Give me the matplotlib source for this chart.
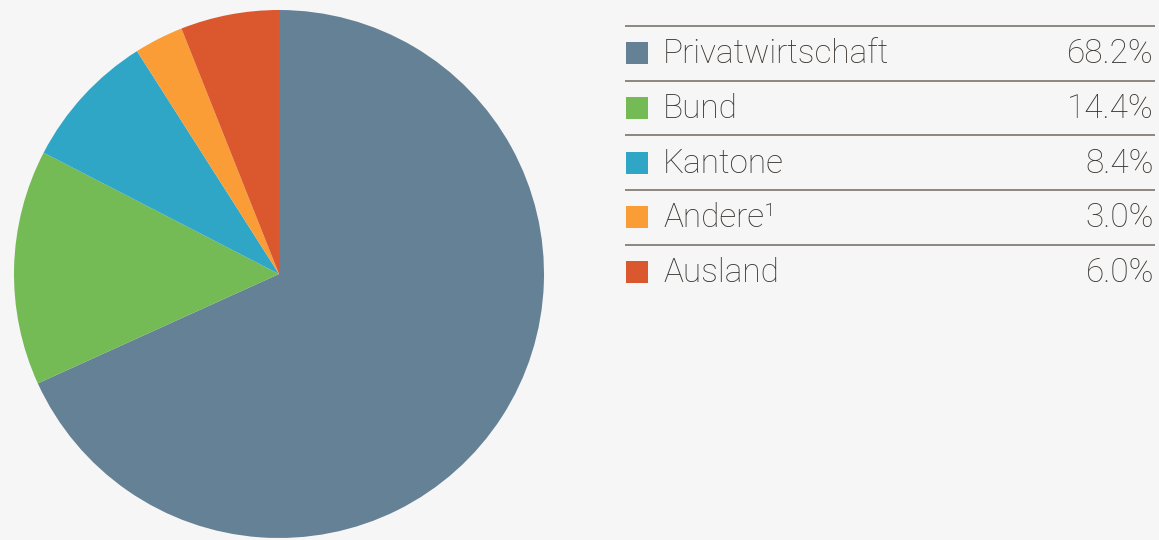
import matplotlib.pyplot as plt
from matplotlib.patches import Rectangle

categories = ['Privatwirtschaft', 'Bund', 'Kantone', 'Andere¹', 'Ausland']
shares = [68.2, 14.4, 8.4, 3.0, 6.0]
value_labels = ['68.2%', '14.4%', '8.4%', '3.0%', '6.0%']
colors = ['#658196', '#74BA55', '#2FA6C6', '#FB9D37', '#DB582F']

bg = '#F6F6F6'
text_color = '#3A3632'
line_color = '#8C877F'

W, H = 1159, 540
fig = plt.figure(figsize=(W / 100, H / 100), dpi=100, facecolor=bg)

# pie, placed in pixel units
ax = fig.add_axes([14 / W, 2 / H, 530 / W, 528 / H])
ax.pie(shares, colors=colors, startangle=90, counterclock=False,
       radius=1.0, wedgeprops=dict(linewidth=0))
ax.set_xlim(-1, 1)
ax.set_ylim(-1, 1)
ax.set_aspect('auto')
ax.axis('off')

# legend table drawn in pixel coordinates
lg = fig.add_axes([0, 0, 1, 1])
lg.set_xlim(0, W)
lg.set_ylim(H, 0)
lg.axis('off')
lg.patch.set_alpha(0)

row_top = 26
row_h = 54.7
x0, x1 = 625, 1155
font = dict(family=['Roboto', 'DejaVu Sans'], fontweight='light', fontsize=24,
            color=text_color)

for i, (cat, lab, col) in enumerate(zip(categories, value_labels, colors)):
    y_line = row_top + i * row_h
    lg.plot([x0, x1], [y_line, y_line], color=line_color, lw=1.4,
            solid_capstyle='butt')
    yc = y_line + row_h / 2
    lg.add_patch(Rectangle((626, yc - 11), 22, 22, color=col, lw=0))
    lg.text(663, yc + 1, cat, va='center', ha='left', **font)
    lg.text(1154, yc + 1, lab, va='center', ha='right', **font)

fig.savefig('out.png', dpi=100, facecolor=bg)
